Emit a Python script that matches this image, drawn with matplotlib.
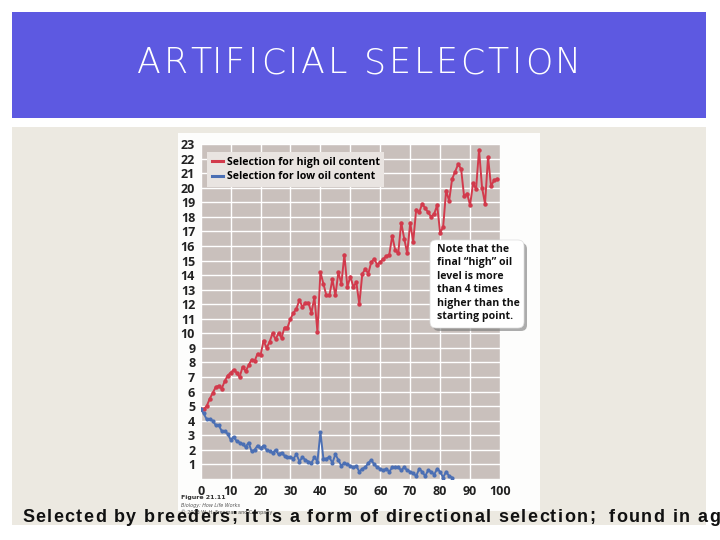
import matplotlib
matplotlib.use("Agg")
import matplotlib.pyplot as plt
from matplotlib.patches import Rectangle, FancyBboxPatch
from matplotlib.lines import Line2D
from matplotlib.font_manager import FontProperties

# ---------------- data ----------------
gen_high = list(range(0, 100))
oil_high = [4.8, 4.8, 5.0, 5.5, 5.9, 6.3, 6.4, 6.2, 6.7, 7.1,
            7.3, 7.5, 7.3, 7.0, 7.7, 7.4, 7.8, 8.2, 8.1, 8.6,
            8.5, 9.5, 9.0, 9.4, 10.0, 9.6, 10.0, 9.7, 10.4, 10.4,
            11.0, 11.4, 11.7, 12.3, 11.8, 12.1, 12.1, 11.4, 12.5, 10.1,
            14.2, 13.4, 12.6, 12.6, 13.7, 12.6, 14.2, 13.4, 15.4, 13.2,
            13.9, 13.2, 13.5, 12.0, 14.1, 14.4, 14.1, 14.9, 15.1, 14.7,
            14.9, 15.1, 15.3, 15.4, 16.7, 15.7, 15.5, 17.6, 16.5, 15.5,
            17.6, 16.3, 18.5, 18.3, 18.9, 18.6, 18.3, 18.0, 18.2, 18.8,
            16.9, 17.3, 19.8, 19.1, 20.6, 21.1, 21.6, 21.3, 19.4, 19.6,
            18.8, 20.3, 19.9, 22.6, 20.0, 18.9, 22.1, 20.1, 20.5, 20.6]
gen_low = list(range(0, 85))
oil_low = [4.8, 4.5, 4.1, 4.1, 4.0, 3.7, 3.7, 3.3, 3.3, 3.1,
           2.7, 2.9, 2.6, 2.5, 2.4, 2.2, 2.5, 1.9, 2.0, 2.3,
           2.1, 2.3, 2.0, 1.9, 1.8, 2.0, 1.7, 1.8, 1.6, 1.5,
           1.5, 1.4, 1.7, 1.2, 1.5, 1.3, 1.2, 1.1, 1.5, 1.2,
           3.2, 1.4, 1.4, 1.5, 1.1, 1.7, 1.3, 0.9, 1.1, 1.0,
           0.9, 0.8, 0.9, 0.5, 0.7, 0.8, 1.1, 1.3, 1.0, 0.8,
           0.7, 0.6, 0.7, 0.5, 0.8, 0.8, 0.8, 0.6, 0.8, 0.6,
           0.5, 0.4, 0.2, 0.7, 0.5, 0.2, 0.6, 0.5, 0.3, 0.7,
           0.5, 0.1, 0.5, 0.2, 0.1]
x_ticks = [0, 10, 20, 30, 40, 50, 60, 70, 80, 90, 100]
y_ticks = list(range(0, 24))
legend_labels = ["Selection for high oil content", "Selection for low oil content"]
title = "ARTIFICIAL SELECTION"
callout = "Note that the\nfinal \u201chigh\u201d oil\nlevel is more\nthan 4 times\nhigher than the\nstarting point."
caption = "Selected by breeders; it is a form of directional selection;  found in agriculture"

RED = "#d23a4c"
BLUE = "#4b6fb4"

W, H = 720, 540
fig = plt.figure(figsize=(7.2, 5.4), dpi=100)
fig.patch.set_facecolor("white")
renderer = fig.canvas.get_renderer()


def text_w(s, fp):
    w = renderer.get_text_width_height_descent(s + "x", fp, ismath=False)[0]
    wx = renderer.get_text_width_height_descent("x", fp, ismath=False)[0]
    return w - wx


def spaced_text(axp, x, y, s, fp, tracking, color, zorder=5, xmax=None):
    for i, ch in enumerate(s):
        xi = x + text_w(s[:i], fp) + tracking * i
        if xmax is not None and xi > xmax:
            break
        if ch != " ":
            axp.text(xi, y, ch, fontproperties=fp, color=color, ha="left",
                     va="center", zorder=zorder)


# background layer in pixel coordinates
bg = fig.add_axes([0, 0, 1, 1], zorder=0)
bg.set_xlim(0, W); bg.set_ylim(H, 0); bg.axis("off")
bg.add_patch(Rectangle((12, 12), 694, 106, facecolor="#5d59e1", edgecolor="none"))
bg.add_patch(Rectangle((12, 127), 694, 398, facecolor="#ece9e1", edgecolor="none"))
bg.add_patch(Rectangle((178, 133), 362, 378, facecolor="#fdfdfc", edgecolor="none"))

fp_title = FontProperties(family="DejaVu Sans", weight="light", size=25)
tw = text_w(title, fp_title)
trk = (444 - tw) / (len(title) - 1)
spaced_text(bg, 137, 63, title, fp_title, trk, "white")

bg.text(181, 498, "Figure 21.11", fontsize=4.5, fontweight="bold", color="#333333",
        family="DejaVu Sans", va="center")
bg.text(181, 505, "Biology: How Life Works", fontsize=3.5, style="italic", color="#555555",
        family="DejaVu Sans", va="center")
bg.text(181, 512, "\u00a9 2013 W. H. Freeman and Company", fontsize=3.5, color="#555555",
        family="DejaVu Sans", va="center")

# chart
x0, x1, y0, y1 = 200.7, 500.0, 144.0, 479.0
ax = fig.add_axes([x0 / W, 1 - y1 / H, (x1 - x0) / W, (y1 - y0) / H], zorder=1)
ax.set_facecolor("#c9c0bc")
ax.set_xlim(0, 100); ax.set_ylim(0, 23)
ax.set_xticks(x_ticks); ax.set_yticks(y_ticks)
ax.grid(True, color="white", linewidth=1.0)
ax.set_axisbelow(True)
for s in ax.spines.values():
    s.set_visible(False)
ax.tick_params(length=0, pad=4, labelsize=9, labelcolor="#222222")
ax.set_yticklabels([str(v) if v != 0 else "" for v in y_ticks])
for lab in ax.get_xticklabels() + ax.get_yticklabels():
    lab.set_fontweight("bold"); lab.set_family("Open Sans")

ax.plot(gen_high, oil_high, color=RED, lw=1.4, marker="o", ms=2.2, zorder=3)
ax.plot(gen_low, oil_low, color=BLUE, lw=1.4, marker="o", ms=2.0, zorder=3)

handles = [Line2D([], [], color=RED, lw=2.2), Line2D([], [], color=BLUE, lw=2.2)]
leg = ax.legend(handles, legend_labels, loc="upper left", bbox_to_anchor=(0.021, 0.976),
                borderaxespad=0, frameon=True, fancybox=False, handlelength=1.1,
                handletextpad=0.3, borderpad=0.45, labelspacing=0.35,
                prop={"family": "Open Sans", "weight": "bold", "size": 7.6})
leg.get_frame().set_facecolor("#e9e4e1")
leg.get_frame().set_edgecolor("none")
leg.get_frame().set_alpha(1)

# overlay layer
ov = fig.add_axes([0, 0, 1, 1], zorder=3)
ov.set_xlim(0, W); ov.set_ylim(H, 0); ov.axis("off")
ov.patch.set_alpha(0)
ov.add_patch(FancyBboxPatch((433, 243), 94, 88, boxstyle="round,pad=0,rounding_size=6",
                            facecolor="#777777", edgecolor="none", alpha=0.6))
ov.add_patch(FancyBboxPatch((430, 240), 94, 88, boxstyle="round,pad=0,rounding_size=6",
                            facecolor="white", edgecolor="#dddddd", lw=0.5))
ov.text(437, 244, callout, fontsize=7.6, fontweight="bold", family="Open Sans",
        color="#111111", va="top", ha="left", linespacing=1.3)

# bottom caption, letter-spaced, running off the right edge like the slide
fp_cap = FontProperties(family="Liberation Sans", weight="bold", size=13)
k = caption.index("found in ag") + len("found in a")
trk_c = (709 - 22 - text_w(caption[:k], fp_cap)) / k
spaced_text(ov, 22, 517, caption, fp_cap, trk_c, "#111111", zorder=10, xmax=716)

fig.savefig("out.png", dpi=100)
